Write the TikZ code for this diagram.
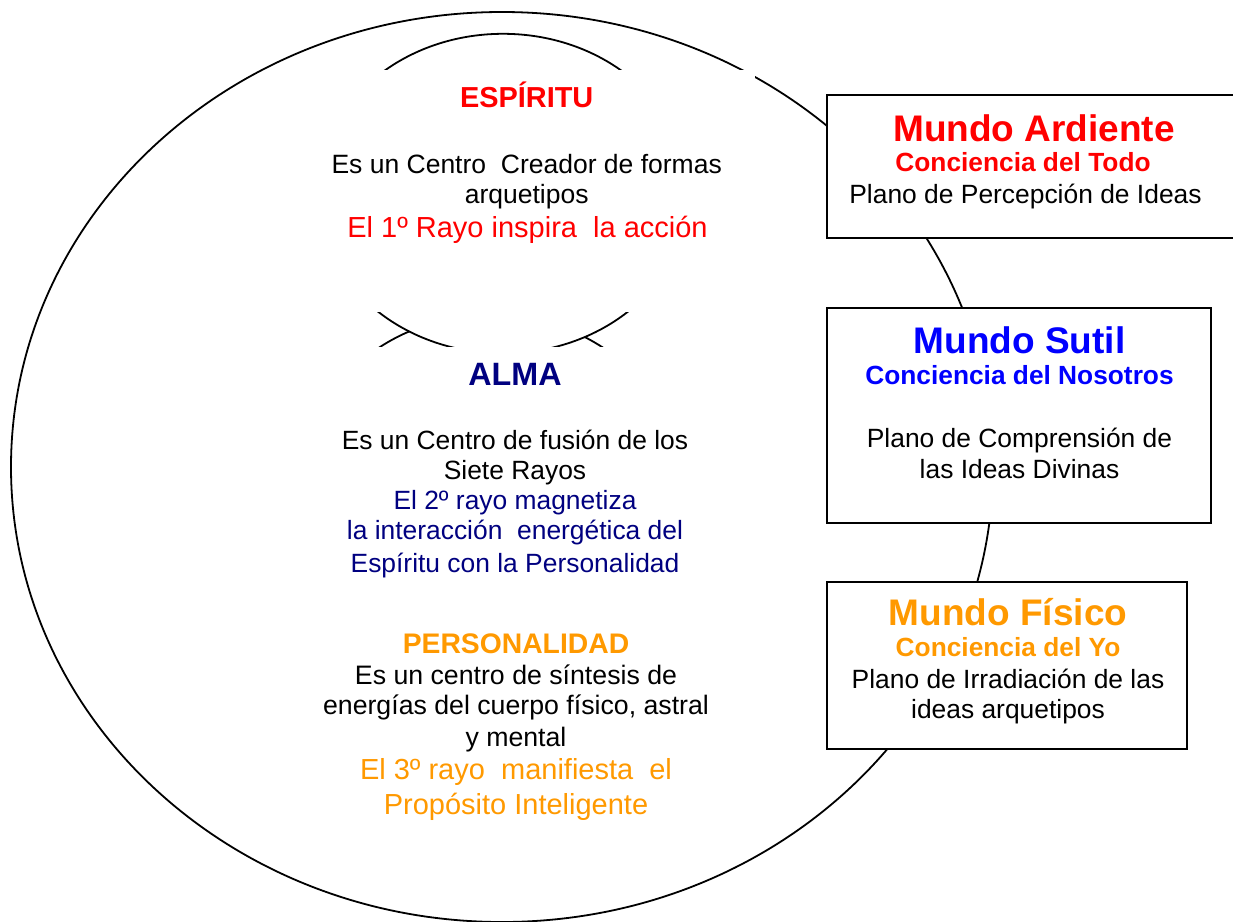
\documentclass[tikz,border=0pt]{standalone}
\usepackage{fontspec}
\setmainfont{Liberation Sans}
\definecolor{rojo}{RGB}{255,0,0}
\definecolor{azul}{RGB}{0,0,255}
\definecolor{marino}{RGB}{0,0,128}
\definecolor{naranja}{RGB}{255,153,0}
\newcommand{\fsz}[1]{\fontsize{#1}{#1}\selectfont}

\begin{document}
\begin{tikzpicture}[x=1pt,y=-1pt,
    txt/.style={inner sep=0pt,anchor=base},
    title/.style={txt,font=\fsz{37}\bfseries},
    sub/.style={txt,font=\fsz{26.3}\bfseries},
    body/.style={txt,font=\fsz{26.4}},
    world/.style={draw,fill=white,line width=2.2pt},
    ring/.style={line width=1.8pt}]
    \useasboundingbox (0,0) rectangle (1233,921);
    \clip (0,0) rectangle (1233,921);
    % circulos
    \draw[ring] (502,467) ellipse [x radius=491, y radius=455];
    \draw[ring] (491,475) ellipse [x radius=185, y radius=160];
    \draw[ring,fill=white] (503,193.6) ellipse [x radius=185.4, y radius=159.8];
    \fill[white] (300,70) rectangle (755,312);
    \fill[white] (300,347) rectangle (730,640);
    % espiritu
    \node[txt,font=\fsz{28.9}\bfseries,text=rojo] (espiritu) at (526.7,107.3) {ESPÍRITU};
    \node[body,font=\fsz{26.5}] (esp1) at (526.7,173.3) {Es un Centro~ Creador de formas};
    \node[body,font=\fsz{26.5}] (esp2) at (526.7,203.3) {arquetipos};
    \node[body,font=\fsz{29},text=rojo] (esp3) at (527.5,237.3) {El 1º Rayo inspira~ la acción};
    % alma
    \node[txt,font=\fsz{32.3}\bfseries,text=marino] (alma) at (515,385) {ALMA};
    \foreach \n/\y/\t in {1/449.3/{Es un Centro de fusión de los},2/479.3/{Siete Rayos}}
        \node[body] (alma\n) at (515,\y) {\t};
    \foreach \n/\y/\t in {3/509.3/{El 2º rayo magnetiza},4/539.3/{la interacción~ energética del},5/572.7/{Espíritu con la Personalidad}}
        \node[body,text=marino] (alma\n) at (515,\y) {\t};
    % personalidad
    \node[txt,font=\fsz{28.3}\bfseries,text=naranja] (perso) at (516,653.3) {PERSONALIDAD};
    \foreach \n/\y/\t in {1/684.3/{Es un centro de síntesis de},2/714.3/{energías del cuerpo físico, astral},3/746/{y mental}}
        \node[body,font=\fsz{26.7}] (perso\n) at (516,\y) {\t};
    \foreach \n/\y/\t in {4/779.3/{El 3º rayo~ manifiesta~ el},5/814.3/{Propósito Inteligente}}
        \node[body,font=\fsz{29},text=naranja] (perso\n) at (516,\y) {\t};
    % mundos
    \draw[world] (827,95) rectangle (1245,238);
    \node[title,text=rojo] (ardiente) at (1034,141) {Mundo Ardiente};
    \node[sub,text=rojo] (ardiente1) at (1023,171.7) {Conciencia del Todo};
    \node[body] (ardiente2) at (1025.5,203) {Plano de Percepción de Ideas};
    \draw[world] (827,308) rectangle (1211,523);
    \node[title,text=azul] (sutil) at (1019.5,353.3) {Mundo Sutil};
    \node[sub,text=azul] (sutil1) at (1019.5,384.3) {Conciencia del Nosotros};
    \node[body] (sutil2) at (1019.5,447.7) {Plano de Comprensión de};
    \node[body] (sutil3) at (1019.5,478.3) {las Ideas Divinas};
    \draw[world] (827,582) rectangle (1187,749);
    \node[title,text=naranja] (fisico) at (1008,625) {Mundo Físico};
    \node[sub,text=naranja] (fisico1) at (1008,656) {Conciencia del Yo};
    \node[body] (fisico2) at (1008,688.3) {Plano de Irradiación de las};
    \node[body] (fisico3) at (1008,718.3) {ideas arquetipos};
\end{tikzpicture}
\end{document}
